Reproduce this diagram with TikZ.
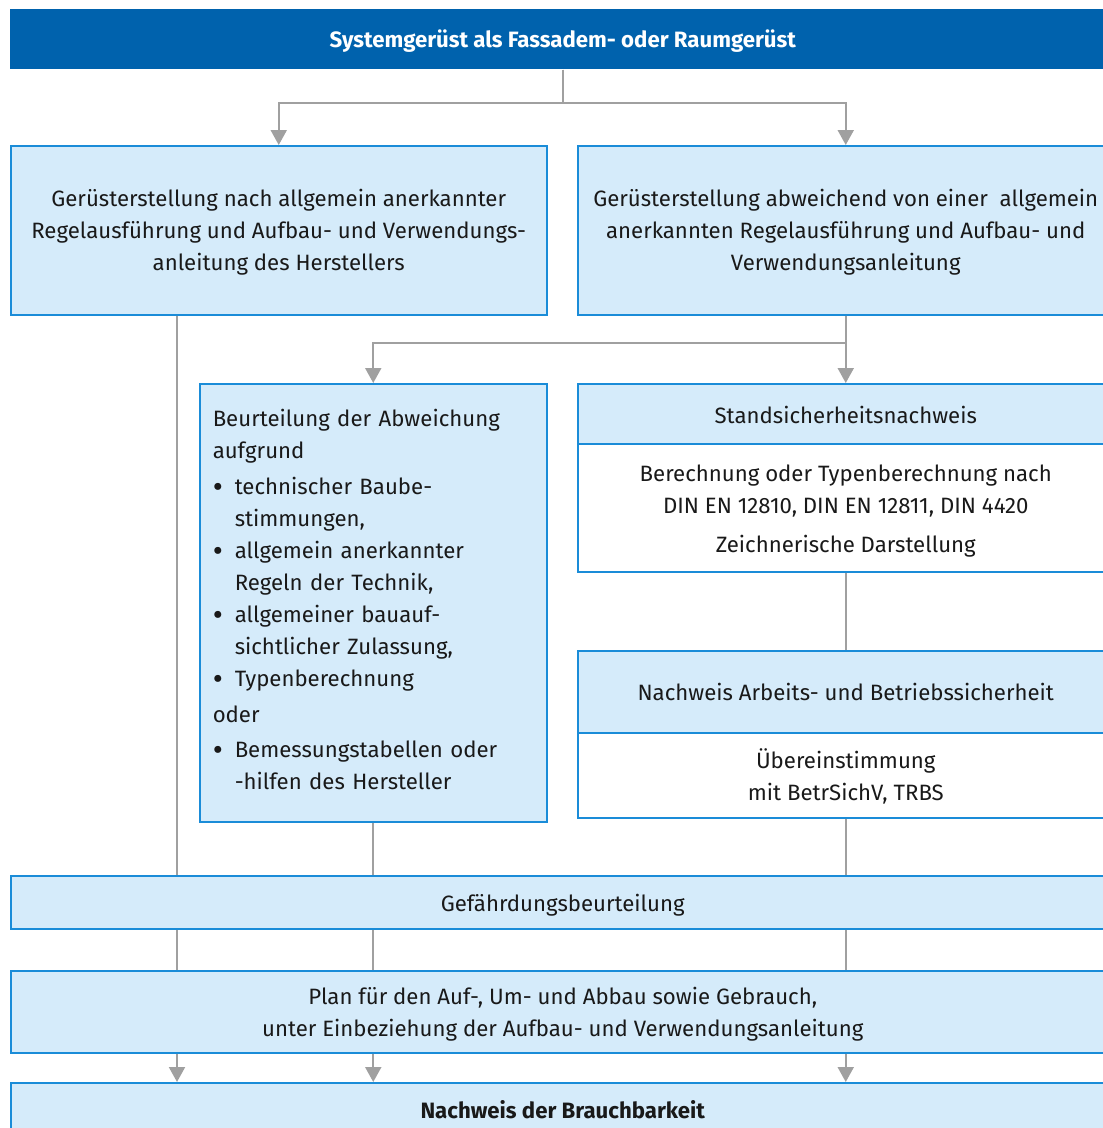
\documentclass[tikz,border=0pt]{standalone}
\usepackage{fontspec}
\setmainfont{Fira Sans}
\usetikzlibrary{arrows.meta}
\definecolor{topblue}{HTML}{0062AD}
\definecolor{boxfill}{HTML}{D5EBFA}
\definecolor{boxline}{HTML}{1A8CD8}
\definecolor{conngray}{HTML}{A0A0A0}
\newcommand{\bul}{\makebox[22pt][l]{\raisebox{-2.8pt}{\scalebox{1.4}{\textbullet}}}}
\newcommand{\lowr}[2]{\raisebox{-#1}[\height][\depth]{#2}}
\tikzset{
  box/.style={draw=boxline, line width=1.5pt, fill=boxfill, anchor=north west, inner sep=0pt, align=center,
    font=\fontsize{22.2}{32}\selectfont, text=black!90},
  whitebox/.style={box, fill=white},
  plaintext/.style={inner sep=0pt, font=\fontsize{22.2}{32}\selectfont, text=black!90},
  line/.style={draw=conngray, line width=2pt},
  arr/.style={line, -{Triangle[width=16pt,length=15pt]}},
}
\begin{document}
\begin{tikzpicture}[x=1pt,y=-1pt]
\useasboundingbox (0,0) rectangle (1103,1128);
\clip (0,0) rectangle (1103,1128);
\node[box, draw=none, fill=topblue, text=white, minimum width=1106pt, minimum height=60pt] (top) at (9,8)
  {\lowr{2pt}{\bfseries Systemgerüst als Fassadem- oder Raumgerüst}};
\node[box, minimum width=536pt, minimum height=169pt] (L1) at (10,145)
  {\lowr{2pt}{Gerüsterstellung nach allgemein anerkannter}\\
   \lowr{2pt}{Regelausführung und Aufbau- und Verwendungs-}\\
   \lowr{2pt}{anleitung des Herstellers}};
\node[box, minimum width=536pt, minimum height=169pt] (R1) at (577,145)
  {\lowr{2pt}{Gerüsterstellung abweichend von einer\ \ allgemein}\\
   \lowr{2pt}{anerkannten Regelausführung und Aufbau- und}\\
   \lowr{2pt}{Verwendungsanleitung}};
\node[box, minimum width=347pt, minimum height=438pt] (B) at (199,383) {};
\node[plaintext, align=left, text width=321pt] (Bt) at ([yshift=3pt]B.center)
  {Beurteilung der Abweichung\\
   aufgrund\\[4pt]
   \bul technischer Baube-\\
   \hspace*{22pt}stimmungen,\\
   \bul allgemein anerkannter\\
   \hspace*{22pt}Regeln der Technik,\\
   \bul allgemeiner bauauf-\\
   \hspace*{22pt}sichtlicher Zulassung,\\
   \bul Typenberechnung\\[4pt]
   oder\\[3pt]
   \bul Bemessungstabellen oder\\
   \hspace*{22pt}-hilfen des Hersteller};
\node[box, minimum width=536pt, minimum height=60pt] (S) at (577,383) {\lowr{1pt}{Standsicherheitsnachweis}};
\node[whitebox, minimum width=536pt, minimum height=128pt] (Sb) at (577,443)
  {\lowr{3pt}{Berechnung oder Typenberechnung nach}\\
   \lowr{3pt}{DIN EN 12810, DIN EN 12811, DIN 4420}\\[7pt]
   \lowr{3pt}{Zeichnerische Darstellung}};
\node[box, minimum width=536pt, minimum height=82pt] (N) at (577,650) {Nachweis Arbeits- und Betriebssicherheit};
\node[whitebox, minimum width=536pt, minimum height=85pt] (Nb) at (577,732)
  {\lowr{1pt}{Übereinstimmung}\\\lowr{1pt}{mit BetrSichV, TRBS}};
\node[box, minimum width=1104pt, minimum height=53pt] (G) at (10,875) {\lowr{3pt}{Gefährdungsbeurteilung}};
\node[box, minimum width=1104pt, minimum height=82pt] (P) at (10,970)
  {\lowr{2.5pt}{Plan für den Auf-, Um- und Abbau sowie Gebrauch,}\\
   \lowr{2.5pt}{unter Einbeziehung der Aufbau- und Verwendungsanleitung}};
\node[box, minimum width=1104pt, minimum height=54pt] (F) at (10,1082) {\bfseries Nachweis der Brauchbarkeit};
\coordinate (colA) at (177,0);
% connectors
\draw[arr] (top.south) -- ++(0,33) -| (L1.north);
\draw[arr] (top.south) -- ++(0,33) -| (R1.north);
\draw[arr] (R1.south) -- (S.north);
\draw[arr] (R1.south) -- ++(0,27) -| (B.north);
\draw[line] (Sb.south) -- (N.north);
\draw[line] (Nb.south) -- (G.north -| Nb.south);
\draw[line] (B.south) -- (G.north -| B.south);
\draw[line] (L1.south -| colA) -- (G.north -| colA);
\draw[line] (G.south -| colA) -- (P.north -| colA);
\draw[line] (G.south -| B.south) -- (P.north -| B.south);
\draw[line] (G.south -| Nb.south) -- (P.north -| Nb.south);
\draw[arr] (P.south -| colA) -- (F.north -| colA);
\draw[arr] (P.south -| B.south) -- (F.north -| B.south);
\draw[arr] (P.south -| Nb.south) -- (F.north -| Nb.south);
\end{tikzpicture}
\end{document}
